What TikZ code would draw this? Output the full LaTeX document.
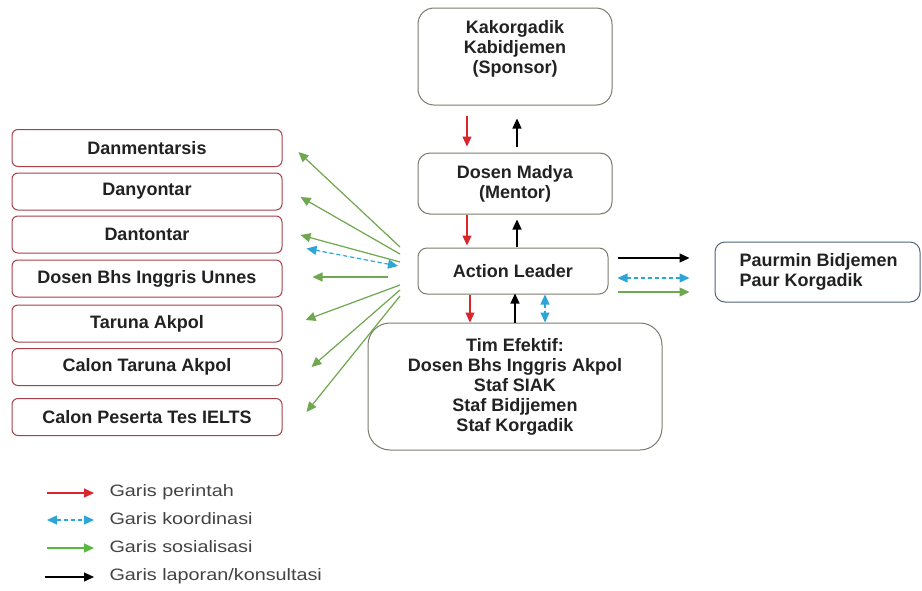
\documentclass[tikz,border=0pt]{standalone}
\usepackage{fontspec}
\setmainfont{Liberation Sans}
\usetikzlibrary{arrows.meta,calc}
\definecolor{cred}{HTML}{D9262E}
\definecolor{cblue}{HTML}{2DA5D8}
\definecolor{cgreen}{HTML}{6FA84F}
\definecolor{cbord}{HTML}{A8404A}
\definecolor{cgray}{HTML}{7B7B6E}
\definecolor{cpaur}{HTML}{4F6480}
\definecolor{ctext}{HTML}{222222}
\begin{document}
\begin{tikzpicture}[x=1pt,y=-1pt,
  boxfont/.style={font=\bfseries\fontsize{18}{20}\selectfont, text=ctext},
  graybox/.style={draw=cgray, line width=1pt, fill=white, rounded corners=12pt, boxfont, align=center},
  lbox/.style={draw=cbord, line width=1pt, fill=white, rounded corners=6pt, boxfont,
     minimum width=270pt, minimum height=37pt},
  tipa/.style={line width=1.2pt, -{Triangle[length=10pt,width=9pt]}},
  tipb/.style={line width=1.2pt, {Triangle[length=10pt,width=9pt]}-{Triangle[length=10pt,width=9pt]}, dash pattern=on 4pt off 3pt},
  redar/.style={tipa, draw=cred, fill=cred},
  blackar/.style={tipa, draw=black, fill=black},
  greenar/.style={tipa, draw=cgreen, fill=cgreen},
  bluear/.style={tipb, draw=cblue, fill=cblue},
  legtext/.style={anchor=west, text=ctext!85, font=\fontsize{16.5}{18}\selectfont}
]
\useasboundingbox[fill=white] (0,0) rectangle (922,590);

% central column
\node[graybox, rounded corners=16pt, minimum width=194pt, minimum height=97pt] (kak) at (515,56.5) {};
\node[boxfont, align=center] (kakt) at (515,49) {Kakorgadik\\Kabidjemen\\(Sponsor)};
\node[graybox, minimum width=194pt, minimum height=61pt] (dm) at (515,183.5) {Dosen Madya\\(Mentor)};
\node[graybox, rounded corners=9pt, minimum width=190pt, minimum height=46pt] (al) at (513,271) {Action Leader};
\node[graybox, rounded corners=22pt, minimum width=294pt, minimum height=127pt] (tim) at (515,386.5)
  {Tim Efektif:\\Dosen Bhs Inggris Akpol\\Staf SIAK\\Staf Bidjjemen\\Staf Korgadik};
\node[draw=cpaur, line width=1pt, fill=white, rounded corners=10pt, minimum width=205pt, minimum height=60pt] (paur) at (817.5,272) {};
\node[boxfont, align=left, anchor=west] (paurt) at (736,272) {Paurmin Bidjemen\\Paur Korgadik};

% left column
\node[lbox] (d1) at (147,148) {Danmentarsis};
\node[lbox] (d2) at (147,191.5) {Danyontar};
\node[lbox] (d3) at (147,234.5) {Dantontar};
\node[lbox] (d4) at (147,278.5) {Dosen Bhs Inggris Unnes};
\node[lbox] (d5) at (147,323.5) {Taruna Akpol};
\node[lbox] (d6) at (147,367) {Calon Taruna Akpol};
\node[lbox] (d7) at (147,417) {Calon Peserta Tes IELTS};

% vertical connectors
\draw[redar] ($(kak.south)+(-48,10)$) -- ($(dm.north)+(-48,-6)$);
\draw[blackar] ($(dm.north)+(2,-6)$) -- ($(kak.south)+(2,13)$);
\draw[redar] ($(dm.south)+(-48,0)$) -- ($(al.north)+(-46,-2)$);
\draw[blackar] ($(al.north)+(4,-1)$) -- ($(dm.south)+(2,5)$);
\draw[redar] ($(al.south)+(-43,0)$) -- ($(tim.north)+(-45,0)$);
\draw[blackar] ($(tim.north)+(0,0)$) -- ($(al.south)+(2,-1)$);
\draw[bluear] ($(al.south)+(32,0)$) -- ($(tim.north)+(30,0)$);

% right connectors
\draw[blackar] ($(al.east)+(9,-13)$) -- ($(paur.west)+(-25,-14)$);
\draw[bluear] ($(al.east)+(9,7)$) -- ($(paur.west)+(-25,6)$);
\draw[greenar] ($(al.east)+(9,21)$) -- ($(paur.west)+(-25,20)$);

% left connectors
\coordinate (g1) at (400,247);
\coordinate (g2) at (400,254);
\coordinate (g3) at (400,262);
\coordinate (g4) at (388,277);
\coordinate (g5) at (400,285);
\coordinate (g6) at (400,290);
\coordinate (g7) at (400,296);
\coordinate (b1) at (398,266);
\draw[greenar] (g1) -- ($(d1.east)+(16,4)$);
\draw[greenar] (g2) -- ($(d2.east)+(18,5.5)$);
\draw[greenar] (g3) -- ($(d3.east)+(18,0.5)$);
\draw[greenar] (g4) -- ($(d4.east)+(30,-1.5)$);
\draw[greenar] (g5) -- ($(d5.east)+(23,-3.5)$);
\draw[greenar] (g6) -- ($(d6.east)+(29,0)$);
\draw[greenar] (g7) -- ($(d7.east)+(24,-5)$);
\draw[bluear] (b1) -- ($(d3.east)+(24,14)$);

% legend
\coordinate (l1a) at (47,493); \coordinate (l1b) at (94,493);
\coordinate (l2a) at (47,520); \coordinate (l2b) at (94,520);
\coordinate (l3a) at (47,548); \coordinate (l3b) at (94,548);
\coordinate (l4a) at (45,577); \coordinate (l4b) at (94,577);
\draw[redar] (l1a) -- (l1b);
\draw[bluear] (l2a) -- (l2b);
\draw[greenar, draw=cgreen!80!green, fill=cgreen!80!green] (l3a) -- (l3b);
\draw[blackar] (l4a) -- (l4b);
\node[legtext] (t1) at (106,492) {\scalebox{1.2}[1]{Garis perintah}};
\node[legtext] (t2) at (106,519) {\scalebox{1.2}[1]{Garis koordinasi}};
\node[legtext] (t3) at (106,547) {\scalebox{1.2}[1]{Garis sosialisasi}};
\node[legtext] (t4) at (106,576) {\scalebox{1.2}[1]{Garis laporan/konsultasi}};
\end{tikzpicture}
\end{document}
